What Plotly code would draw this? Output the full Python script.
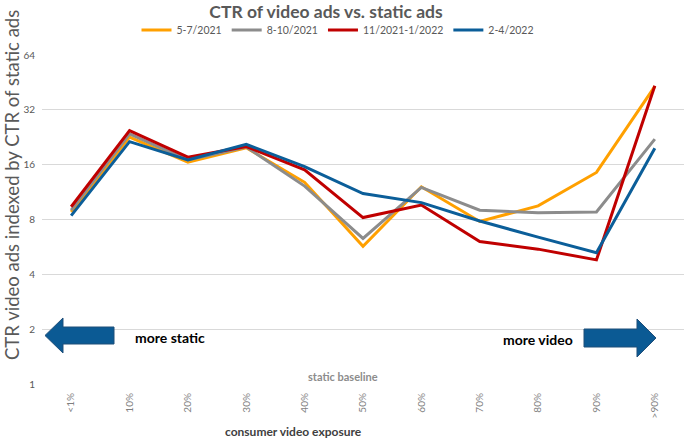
import plotly.graph_objects as go

categories = ["<1%", "10%", "20%", "30%", "40%", "50%", "60%", "70%", "80%", "90%", ">90%"]
s_5_7_2021 = [8.8, 22.7, 16.5, 19.8, 12.8, 5.7, 12.1, 7.8, 9.5, 14.5, 43.0]
s_8_10_2021 = [9.0, 23.6, 17.0, 20.0, 12.2, 6.3, 12.0, 9.0, 8.7, 8.8, 22.1]
s_11_2021_1_2022 = [9.4, 24.6, 17.6, 20.1, 15.0, 8.2, 9.6, 6.05, 5.5, 4.8, 43.4]
s_2_4_2022 = [8.4, 21.4, 17.0, 20.7, 15.6, 11.1, 9.9, 7.85, 6.4, 5.25, 19.7]
series_names = ["5-7/2021", "8-10/2021", "11/2021-1/2022", "2-4/2022"]
colors = ["#FFA000", "#8C8C8C", "#C00000", "#0B5E99"]
y_ticks = [1, 2, 4, 8, 16, 32, 64]

W, H = 685, 438
L, R, T, B = 42, 1, 55, 54
PW, PH = W - L - R, H - T - B

def px(x):
    return (x - L) / PW

def py(y):
    return (H - B - y) / PH

fig = go.Figure()
for name, vals, col in zip(series_names, [s_5_7_2021, s_8_10_2021, s_11_2021_1_2022, s_2_4_2022], colors):
    fig.add_trace(go.Scatter(x=categories, y=vals, name=name, mode="lines",
                             line=dict(color=col, width=3)))

def arrow(points):
    d = "M " + " L ".join(f"{px(a):.5f},{py(b):.5f}" for a, b in points) + " Z"
    return dict(type="path", xref="paper", yref="paper", path=d,
                fillcolor="#0B5A94", line=dict(color="#1F4E79", width=1), layer="above")

left_arrow = [(45, 335.5), (63, 318), (63, 327), (114, 327), (114, 344), (63, 344), (63, 353)]
right_arrow = [(656, 338), (637, 319), (637, 329), (584, 329), (584, 347), (637, 347), (637, 357)]

fig.update_layout(
    width=W, height=H,
    margin=dict(l=L, r=R, t=T, b=B, autoexpand=False),
    paper_bgcolor="white", plot_bgcolor="white",
    font=dict(family="Lato", color="#595959"),
    title=dict(text="<b>CTR of video ads vs. static ads</b>", x=326 / W, xref="container", xanchor="center",
               y=1 - 12 / H, yref="container", yanchor="middle", font=dict(size=17.5, color="#595959"),
               automargin=False),
    legend=dict(orientation="h", x=px(338), xref="paper", xanchor="center", y=py(30), yref="paper",
                yanchor="middle", font=dict(size=10.5, color="#595959"), itemwidth=30, bgcolor="rgba(0,0,0,0)"),
    xaxis=dict(type="category", range=[-0.5, 10.5], tickangle=-90, tickfont=dict(size=10, color="#7F7F7F"),
               showgrid=False, showline=False, zeroline=False, ticks="", ticklabelstandoff=6, automargin=False),
    yaxis=dict(type="log", range=[0, 1.80618], tickvals=y_ticks, ticktext=[str(v) for v in y_ticks],
               tickfont=dict(size=10, color="#595959"), gridcolor="#D9D9D9", gridwidth=1,
               showline=False, zeroline=False, ticks="", ticklabelstandoff=6, automargin=False),
    shapes=[arrow(left_arrow), arrow(right_arrow)],
    annotations=[
        dict(text="CTR video ads indexed by CTR of static ads", textangle=-90, xref="paper", yref="paper",
             x=px(12), y=py(185), xanchor="center", yanchor="middle", showarrow=False,
             font=dict(size=18.5, color="#595959")),
        dict(text="<b>more static</b>", xref="paper", yref="paper", x=px(170), y=py(337), showarrow=False,
             xanchor="center", yanchor="middle", font=dict(size=14, color="#000000")),
        dict(text="<b>more video</b>", xref="paper", yref="paper", x=px(538), y=py(339), showarrow=False,
             xanchor="center", yanchor="middle", font=dict(size=14, color="#000000")),
        dict(text="<b>static baseline</b>", xref="paper", yref="paper", x=px(343), y=py(376), showarrow=False,
             xanchor="center", yanchor="middle", font=dict(size=11, color="#8C8C8C")),
        dict(text="<b>consumer video exposure</b>", xref="paper", yref="paper", x=px(293), y=py(431),
             showarrow=False, xanchor="center", yanchor="middle", font=dict(size=12, color="#404040")),
    ],
)

fig.write_html("out.html", config={"displayModeBar": False}, post_script="document.body.style.margin='0';")
